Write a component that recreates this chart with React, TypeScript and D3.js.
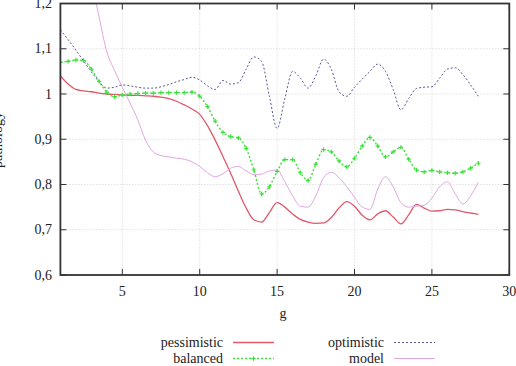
import * as d3 from "d3";

const gValues = d3.range(1, 28.01, 0.5);

const pessimistic = [
  1.04, 1.022, 1.01, 1.007, 1.005, 1.002, 1.0, 0.999, 0.998, 0.997,
  0.997, 0.996, 0.995, 0.993, 0.99, 0.984, 0.976, 0.967, 0.955, 0.93,
  0.898, 0.862, 0.825, 0.785, 0.748, 0.722, 0.717, 0.738, 0.76, 0.75,
  0.735, 0.723, 0.717, 0.714, 0.715, 0.727, 0.748, 0.762, 0.752, 0.732,
  0.722, 0.735, 0.742, 0.728, 0.713, 0.733, 0.756, 0.748, 0.741, 0.742,
  0.745, 0.744, 0.74, 0.737, 0.734,
];

const balanced = [
  1.07, 1.072, 1.075, 1.074, 1.055, 1.028, 1.004, 0.994, 0.998, 1.0,
  1.001, 1.002, 1.002, 1.003, 1.003, 1.003, 1.003, 1.004, 0.995, 0.972,
  0.94, 0.915, 0.906, 0.903, 0.88, 0.832, 0.779, 0.795, 0.829, 0.855,
  0.855, 0.826, 0.809, 0.845, 0.877, 0.872, 0.852, 0.839, 0.858, 0.885,
  0.904, 0.885, 0.861, 0.872, 0.882, 0.856, 0.832, 0.828, 0.831, 0.828,
  0.826, 0.825, 0.828, 0.836, 0.847,
];

const optimistic = [
  1.142, 1.12, 1.097, 1.073, 1.049, 1.027, 1.013, 1.015, 1.02, 1.018,
  1.015, 1.013, 1.013, 1.016, 1.021, 1.027, 1.032, 1.037, 1.031, 1.018,
  1.01, 1.03, 1.022, 1.025, 1.055, 1.082, 1.072, 0.995, 0.924, 0.99,
  1.05, 1.035, 1.013, 1.04, 1.077, 1.055, 1.005, 0.995, 1.015, 1.033,
  1.05, 1.066, 1.05, 1.01, 0.965, 0.99, 1.012, 1.015, 1.016, 1.035,
  1.055, 1.058, 1.043, 1.02, 0.995,
];

const model = [
  1.55, 1.48, 1.4, 1.32, 1.25, 1.17, 1.093, 1.052, 1.015, 0.98,
  0.943, 0.898, 0.872, 0.864, 0.861, 0.858, 0.856, 0.85, 0.84, 0.826,
  0.817, 0.824, 0.836, 0.84, 0.83, 0.822, 0.823, 0.83, 0.832, 0.806,
  0.775, 0.752, 0.75, 0.775, 0.815, 0.827, 0.815, 0.795, 0.772, 0.75,
  0.745, 0.79, 0.817, 0.795, 0.76, 0.75, 0.752, 0.754, 0.77, 0.795,
  0.806, 0.78, 0.757, 0.775, 0.805,
];

const xTicks = [5, 10, 15, 20, 25, 30];
const yTicks = [0.6, 0.7, 0.8, 0.9, 1.0, 1.1, 1.2];
const yTickLabels = ["0,6", "0,7", "0,8", "0,9", "1", "1,1", "1,2"];

const series = [
  { name: "pessimistic", values: pessimistic, color: "#e0596a", width: 1.3, dash: "none", marker: false },
  { name: "balanced", values: balanced, color: "#3ce03c", width: 1.4, dash: "2,2", marker: true },
  { name: "optimistic", values: optimistic, color: "#58589a", width: 1, dash: "2,2", marker: false },
  { name: "model", values: model, color: "#e0a6e0", width: 1, dash: "none", marker: false },
];

const font = "'Liberation Serif', 'DejaVu Serif', serif";

export default function App() {
  const width = 516;
  const height = 366;
  const left = 60.4;
  const right = 509.3;
  const top = 3.5;
  const bottom = 275;

  const x = d3.scaleLinear().domain([1, 30]).range([left, right]);
  const y = d3.scaleLinear().domain([0.6, 1.2]).range([bottom, top]);

  const line = d3
    .line<number>()
    .x((_, i) => x(gValues[i]))
    .y((d) => y(d))
    .curve(d3.curveMonotoneX);

  const legendRows = [
    { s: series[0], tx: 223, lx: 233, y: 342.5 },
    { s: series[1], tx: 223, lx: 233, y: 358.5 },
    { s: series[2], tx: 384, lx: 394, y: 342.5 },
    { s: series[3], tx: 384, lx: 394, y: 358.5 },
  ];

  return (
    <svg width={width} height={height} style={{ position: "absolute", left: 0, top: 0, background: "#fff" }}>
      <defs>
        <clipPath id="plot">
          <rect x={left} y={top} width={right - left} height={bottom - top} />
        </clipPath>
      </defs>
      <rect width={width} height={height} fill="#fff" />

      {/* grid */}
      {xTicks.filter((t) => t < 30).map((t) => (
        <line key={"gx" + t} x1={x(t)} x2={x(t)} y1={top} y2={bottom} stroke="#c8c8c8" strokeWidth={0.8} strokeDasharray="1,2" />
      ))}
      {yTicks.filter((t) => t > 0.6 && t < 1.2).map((t) => (
        <line key={"gy" + t} x1={left} x2={right} y1={y(t)} y2={y(t)} stroke="#c8c8c8" strokeWidth={0.8} strokeDasharray="1,2" />
      ))}

      {/* ticks */}
      {xTicks.map((t) => (
        <g key={"tx" + t}>
          <line x1={x(t)} x2={x(t)} y1={bottom} y2={bottom - 6} stroke="#333" strokeWidth={1} />
          <line x1={x(t)} x2={x(t)} y1={top} y2={top + 6} stroke="#333" strokeWidth={1} />
          <text x={x(t)} y={296} textAnchor="middle" fontFamily={font} fontSize={14} fill="#222">
            {t}
          </text>
        </g>
      ))}
      {yTicks.map((t, i) => (
        <g key={"ty" + t}>
          <line x1={left} x2={left + 6} y1={y(t)} y2={y(t)} stroke="#333" strokeWidth={1} />
          <line x1={right} x2={right - 6} y1={y(t)} y2={y(t)} stroke="#333" strokeWidth={1} />
          <text x={52} y={y(t) + 4.5} textAnchor="end" fontFamily={font} fontSize={14} fill="#222">
            {yTickLabels[i]}
          </text>
        </g>
      ))}

      {/* series */}
      <g clipPath="url(#plot)">
        {series.map((s) => (
          <path
            key={s.name}
            d={line(s.values) ?? ""}
            fill="none"
            stroke={s.color}
            strokeWidth={s.width}
            strokeDasharray={s.dash}
          />
        ))}
        {series
          .filter((s) => s.marker)
          .map((s) =>
            s.values.map((v, i) => (
              <path
                key={s.name + i}
                d={`M${x(gValues[i]) - 2.2},${y(v)}h4.4M${x(gValues[i])},${y(v) - 2.2}v4.4`}
                stroke={s.color}
                strokeWidth={1.2}
              />
            ))
          )}
      </g>

      <rect x={left} y={top} width={right - left} height={bottom - top} fill="none" stroke="#333" strokeWidth={1.8} />

      {/* axis labels */}
      <text x={283} y={318} textAnchor="middle" fontFamily={font} fontSize={14} fill="#222">
        g
      </text>
      <text
        transform={`translate(1.5,140) rotate(-90)`}
        textAnchor="middle"
        fontFamily={font}
        fontSize={14}
        fill="#222"
      >
        pathology
      </text>

      {/* legend */}
      {legendRows.map((r) => (
        <g key={"lg" + r.s.name}>
          <text x={r.tx} y={r.y + 4.5} textAnchor="end" fontFamily={font} fontSize={14} fill="#222">
            {r.s.name}
          </text>
          <line x1={r.lx} x2={r.lx + 41} y1={r.y} y2={r.y} stroke={r.s.color} strokeWidth={r.s.width} strokeDasharray={r.s.dash} />
          {r.s.marker && (
            <path d={`M${r.lx + 18.3},${r.y}h4.4M${r.lx + 20.5},${r.y - 2.2}v4.4`} stroke={r.s.color} strokeWidth={1.2} />
          )}
        </g>
      ))}
    </svg>
  );
}
